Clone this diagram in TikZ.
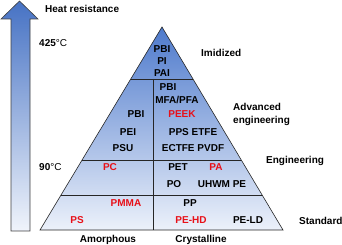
\documentclass[tikz,border=0pt]{standalone}
\usepackage{fontspec}
\setmainfont{Liberation Sans}
\usetikzlibrary{calc}
\definecolor{arrtop}{RGB}{70,114,196}
\definecolor{arrbot}{RGB}{240,244,251}
\definecolor{pyrtop}{RGB}{78,122,204}
\definecolor{pyrbot}{RGB}{236,241,250}
\definecolor{redtxt}{RGB}{232,16,24}
\tikzset{
  lbl/.style={inner sep=0pt, text height=7.2pt, text depth=0pt, font=\fontsize{10}{12}\selectfont\bfseries},
  redlbl/.style={lbl, text=redtxt},
  edge/.style={draw=black!85, line width=0.6pt},
}
\begin{document}
\begin{tikzpicture}[x=1pt,y=-1pt]
\useasboundingbox (0,0) rectangle (342,245);
% heat arrow
\shade[top color=arrtop, bottom color=arrbot, draw=black!75, line width=0.6pt]
  (19.5,1) -- (38,19) -- (30,19) -- (30,231) -- (11,231) -- (11,19) -- (1,19) -- cycle;
% pyramid
\coordinate (apex) at (162,27);
\coordinate (bl) at (40,230);
\coordinate (br) at (283,230);
\shade[top color=pyrtop, bottom color=pyrbot] (apex) -- (bl) -- (br) -- cycle;
\coordinate (l1) at ($(apex)!0.2562!(bl)$);
\coordinate (r1) at ($(apex)!0.2562!(br)$);
\coordinate (l2) at ($(apex)!0.6552!(bl)$);
\coordinate (r2) at ($(apex)!0.6552!(br)$);
\coordinate (l3) at ($(apex)!0.8276!(bl)$);
\coordinate (r3) at ($(apex)!0.8276!(br)$);
\coordinate (dtop) at (153,79);
\coordinate (dbot) at (153,230);
\draw[edge] (l1) -- (r1);
\draw[edge] (l2) -- (r2);
\draw[edge] (l3) -- (r3);
\draw[edge] (dtop) -- (dbot);
\draw[edge, line join=miter] (apex) -- (bl) -- (br) -- cycle;
% outer labels
\node[lbl, anchor=west] (heat) at (45,9) {Heat resistance};
\node[lbl, anchor=west] (t425) at (39,43) {425{\mdseries °C}};
\node[lbl, anchor=west] (t90) at (39,167) {90{\mdseries °C}};
\node[lbl, anchor=west] (imid) at (201,53) {Imidized};
\node[lbl, anchor=west] (adv1) at (233,107) {Advanced};
\node[lbl, anchor=west] (adv2) at (233,120) {engineering};
\node[lbl, anchor=west] (eng) at (266,160) {Engineering};
\node[lbl, anchor=west] (std) at (299,221) {Standard};
\node[lbl] (amor) at (108,239) {Amorphous};
\node[lbl] (cryst) at (201,239) {Crystalline};
% imidized
\node[lbl] (pbia) at (162,49) {PBI};
\node[lbl] (pi) at (162,61) {PI};
\node[lbl] (pai) at (162,73) {PAI};
% advanced engineering
\node[lbl] (pbib) at (136,114) {PBI};
\node[lbl] (pei) at (128,132) {PEI};
\node[lbl] (psu) at (123,148) {PSU};
\node[lbl] (pbic) at (168,87) {PBI};
\node[lbl] (mfa) at (177,100) {MFA/PFA};
\node[redlbl] (peek) at (182,114) {PEEK};
\node[lbl] (pps) at (193,132) {PPS ETFE};
\node[lbl] (ectfe) at (193,148) {ECTFE PVDF};
% engineering
\node[redlbl] (pc) at (110,167) {PC};
\node[lbl] (pet) at (178,167) {PET};
\node[redlbl] (pa) at (216,167) {PA};
\node[lbl] (po) at (174,184) {PO};
\node[lbl] (uhwm) at (222,184) {UHWM PE};
% standard
\node[redlbl] (pmma) at (126,203) {PMMA};
\node[redlbl] (ps) at (77,220) {PS};
\node[lbl] (pp) at (190,203) {PP};
\node[redlbl] (pehd) at (191,220) {PE-HD};
\node[lbl] (peld) at (248,220) {PE-LD};
\end{tikzpicture}
\end{document}
